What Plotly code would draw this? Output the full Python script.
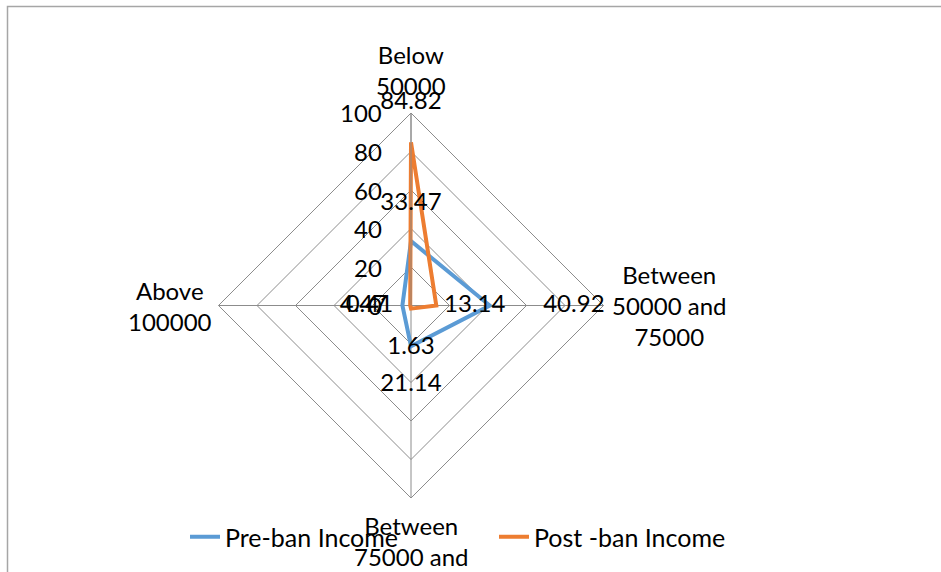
import plotly.graph_objects as go

# Income groups (angular categories) and display labels
categories = ["Below 50000", "Between 50000 and 75000",
              "Between 75000 and 100000", "Above 100000"]
category_labels = ["Below<br>50000", "Between<br>50000 and<br>75000",
                   "Between<br>75000 and<br>100000", "Above<br>100000"]

# Share of respondents (%) in each income group
pre_ban = [33.47, 40.92, 21.14, 4.47]
post_ban = [84.82, 13.14, 1.63, 0.41]

radial_ticks = [0, 20, 40, 60, 80, 100]

# radial offsets used to set the value labels off the line
pre_label_offset = [19.4, 43.7, 20.3, 20.2]
post_label_offset = [20.2, 20.0, 20.5, 21.2]

W, H = 941, 572
FONT = "Lato"
FS = 24
BLUE = "#5B9BD5"
ORANGE = "#ED7D31"
GRID = "#8c8c8c"

# polar area geometry (pixels)
cx, cy, R = 411, 305.5, 192.5
# an invisible, wider twin polar carries the value labels so that
# labels placed past the 100 ring are still drawn
K = 1.2


def closed(vals):
    return list(vals) + [vals[0]]


def domain(radius):
    return dict(x=[(cx - radius) / W, (cx + radius) / W],
                y=[(H - cy - radius) / H, (H - cy + radius) / H])


fig = go.Figure()

fig.add_trace(go.Scatterpolar(
    r=closed(pre_ban), theta=closed(categories), mode="lines",
    name="Pre-ban Income", line=dict(color=BLUE, width=4),
    hoverinfo="skip"))
fig.add_trace(go.Scatterpolar(
    r=closed(post_ban), theta=closed(categories), mode="lines",
    name="Post -ban Income", line=dict(color=ORANGE, width=4),
    hoverinfo="skip"))

# value labels
for vals, offs in ((pre_ban, pre_label_offset), (post_ban, post_label_offset)):
    fig.add_trace(go.Scatterpolar(
        r=[v + o for v, o in zip(vals, offs)], theta=categories,
        subplot="polar2", mode="text", text=[f"{v:g}" for v in vals],
        textposition="middle center",
        textfont=dict(family=FONT, size=FS, color="#000000"),
        cliponaxis=False, showlegend=False, hoverinfo="skip"))

hidden_axis = dict(showgrid=False, showline=False, showticklabels=False,
                   ticks="")

fig.update_layout(
    width=W, height=H,
    margin=dict(l=0, r=0, t=0, b=0),
    paper_bgcolor="white",
    font=dict(family=FONT, size=FS, color="#000000"),
    polar=dict(
        domain=domain(R),
        bgcolor="rgba(0,0,0,0)",
        gridshape="linear",
        angularaxis=dict(
            categoryorder="array", categoryarray=categories,
            direction="clockwise", rotation=90,
            showticklabels=False, ticks="",
            showgrid=True, gridcolor=GRID, gridwidth=1,
            showline=True, linecolor=GRID, linewidth=1),
        radialaxis=dict(
            range=[0, 100], tickvals=radial_ticks,
            angle=90, showticklabels=False,
            showline=True, linecolor=GRID, linewidth=1,
            showgrid=True, gridcolor=GRID, gridwidth=1,
            ticks=""),
    ),
    polar2=dict(
        domain=domain(R * K),
        bgcolor="rgba(0,0,0,0)",
        gridshape="linear",
        angularaxis=dict(categoryorder="array", categoryarray=categories,
                         direction="clockwise", rotation=90, **hidden_axis),
        radialaxis=dict(range=[0, 100 * K], angle=90, **hidden_axis),
    ),
    legend=dict(
        orientation="h", x=185 / W, xanchor="left",
        y=1 - 537 / H, yanchor="middle",
        font=dict(family=FONT, size=25, color="#000000"),
        entrywidth=264, bgcolor="rgba(0,0,0,0)"),
)

# radial scale labels, set to the left of the vertical spoke
for t in radial_ticks:
    fig.add_annotation(
        text=f"{t}", xref="paper", yref="paper",
        x=(cx - 27) / W, y=1 - (cy - t * R / 100) / H,
        xanchor="right", yanchor="middle", showarrow=False,
        font=dict(family=FONT, size=FS, color="#000000"))

# category labels around the chart
label_pos = [(411, 70.5), (669, 305), (411, 556), (170, 306)]
for text, (px, py) in zip(category_labels, label_pos):
    fig.add_annotation(
        text=text, xref="paper", yref="paper",
        x=px / W, y=1 - py / H, xanchor="center", yanchor="middle",
        showarrow=False, align="center",
        font=dict(family=FONT, size=FS, color="#000000"))

# chart frame
fig.add_shape(type="rect", xref="paper", yref="paper",
              x0=7.5 / W, x1=1.1, y0=-0.1, y1=1 - 6.5 / H,
              line=dict(color="#a6a6a6", width=1.5), layer="below")

fig.write_html("out.html")
